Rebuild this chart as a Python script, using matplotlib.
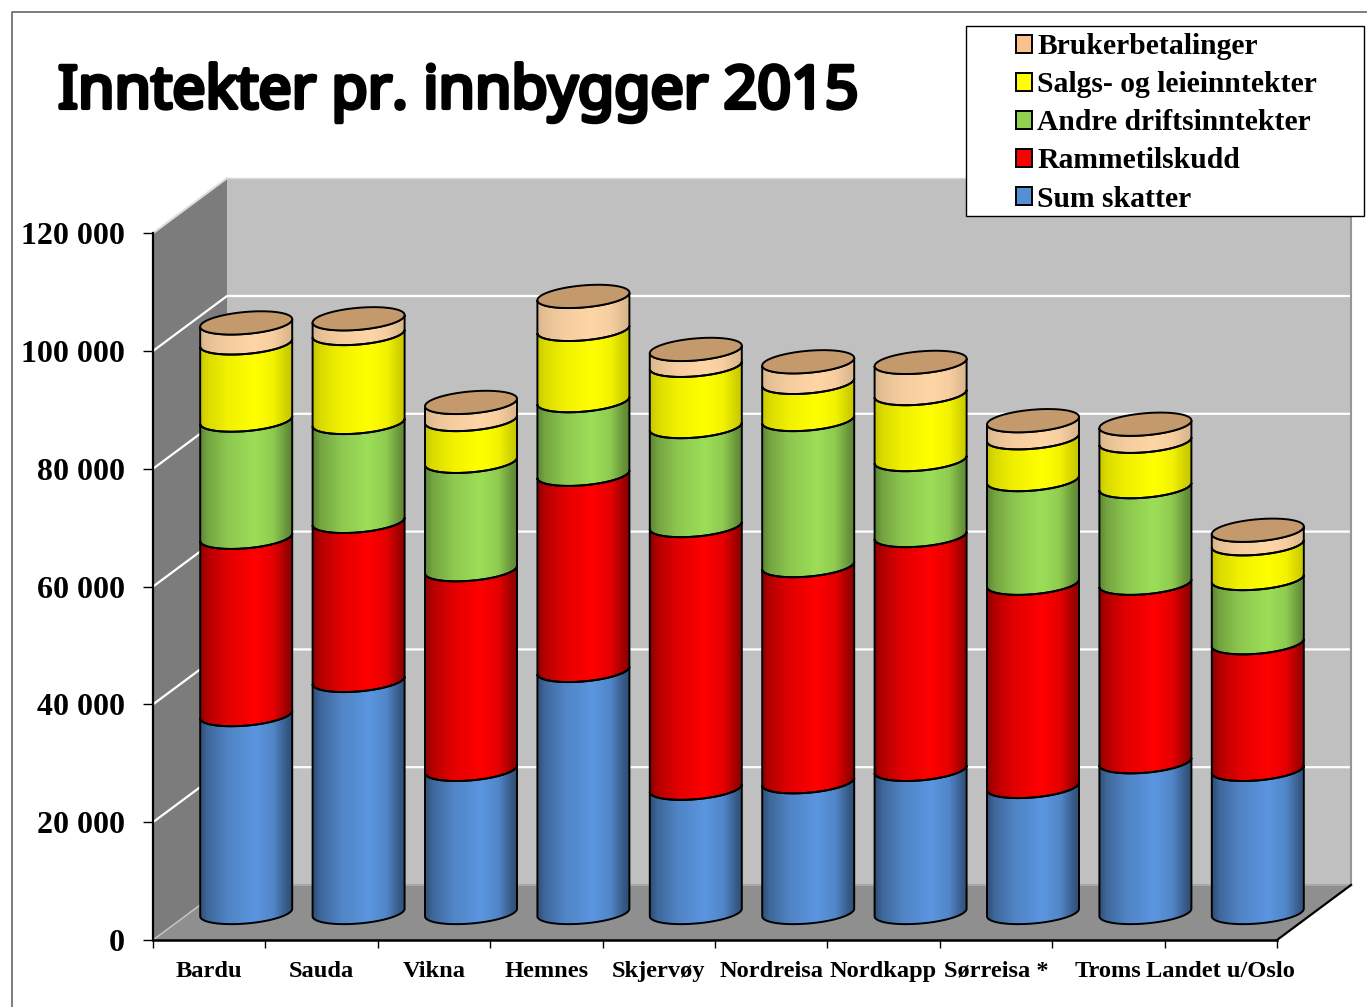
import numpy as np
import matplotlib
matplotlib.use('Agg')
import matplotlib.pyplot as plt
import matplotlib.patheffects as pe
from matplotlib.patches import Polygon, Rectangle, Patch
from matplotlib.lines import Line2D
from matplotlib.colors import to_rgb
from matplotlib.ticker import FuncFormatter

#dados
kommuner = ['Bardu', 'Sauda', 'Vikna', 'Hemnes', 'Skjervøy', 'Nordreisa', 'Nordkapp',
            'Sørreisa *', 'Troms', 'Landet u/Oslo']
sum_skatter = [33600, 39400, 24300, 41100, 21100, 22200, 24300, 21400, 25600, 24300]
rammetilskudd = [30100, 27000, 33900, 33300, 44600, 36700, 39700, 34500, 30300, 21500]
andre_drift = [19900, 16800, 18400, 12500, 16800, 24800, 12900, 17600, 16400, 10900]
salg_leie = [13100, 15100, 7100, 12100, 10400, 6300, 11200, 7100, 7700, 5900]
bruker = [3400, 2500, 2900, 5600, 2700, 3500, 5300, 2900, 2900, 2300]
nomes = ['Sum skatter', 'Rammetilskudd', 'Andre driftsinntekter', 'Salgs- og leieinntekter', 'Brukerbetalinger']
series = [sum_skatter, rammetilskudd, andre_drift, salg_leie, bruker]
yticks = [0, 20000, 40000, 60000, 80000, 100000, 120000]

#cores
legenda_cor = ['#558ED5', '#FF0000', '#92D050', '#FFFF00', '#FAC090']
centro_cor = ['#5B96E0', '#FF0000', '#9CDE58', '#FFFF00', '#FFD5A5']
escuro = [0.52, 0.55, 0.6, 0.78, 0.85]
cor_topo = '#C49A6C'

#escala em pixels
W, H = 1367, 1007
px_x = 112.4
px_y = 0.00589
x0_px = 209.2
y0_px = 940
dx = 74 / px_x
dy = 55 / px_y
meia_larg = 46 / px_x
b = 11 / px_y
s = 3.8 / px_y

fig = plt.figure(figsize=(W / 100, H / 100), dpi=100, facecolor='white')
ax = fig.add_axes([0, 0, 1, 1])
ax.set_facecolor('none')
ax.set_autoscale_on(False)
xlim = (-x0_px / px_x, (W - x0_px) / px_x)
ylim = ((y0_px - H) / px_y, y0_px / px_y)

#paredes
x1, x2 = -0.5, 9.5
ymax = yticks[-1]
ax.add_patch(Polygon([(x1, 0), (x1 + dx, dy), (x1 + dx, ymax + dy), (x1, ymax)], fc='#7C7C7C', ec='none', zorder=1))
ax.add_patch(Polygon([(x1 + dx, dy), (x2 + dx, dy), (x2 + dx, ymax + dy), (x1 + dx, ymax + dy)], fc='#C0C0C0', ec='none', zorder=1))
ax.add_patch(Polygon([(x1, 0), (x2, 0), (x2 + dx, dy), (x1 + dx, dy)], fc='#8F8F8F', ec='none', zorder=1))
for v in yticks:
    if v == 0:
        ax.plot([x1, x1 + dx], [v, v + dy], color='#C8C8C8', lw=1, zorder=1.5)
        ax.plot([x1 + dx, x2 + dx], [v + dy, v + dy], color='#A8A8A8', lw=1.5, zorder=1.5)
    elif v == ymax:
        ax.plot([x1, x1 + dx], [v, v + dy], color='#DDDDDD', lw=1.5, zorder=1.5)
        ax.plot([x1 + dx, x2 + dx], [v + dy, v + dy], color='#D8D8D8', lw=1, zorder=1.5)
    else:
        ax.plot([x1, x1 + dx, x2 + dx], [v, v + dy, v + dy], color='white', lw=1.6, zorder=1.5)
ax.plot([x2 + dx, x2 + dx], [dy, ymax + dy], color='#969696', lw=1.5, zorder=1.5)
ax.plot([x2, x2 + dx], [0, dy], color='black', lw=1.6, zorder=2.5)

#cilindros
t = np.linspace(np.pi, 0, 60)
tf = [0, 0.08, 0.3, 0.6, 0.8, 0.95, 1]

def arco(cx, cy):
    return cx + meia_larg * np.cos(t), cy - b * np.sin(t) + s * np.cos(t)

for i in range(len(kommuner)):
    cx = i + dx / 2
    base = dy / 2
    for j, serie in enumerate(series):
        topo = base + serie[i]
        xa, ya = arco(cx, base)
        xb, yb = arco(cx, topo)
        pts = np.vstack([np.column_stack([xa, ya]), np.column_stack([xb, yb])[::-1]])
        poly = Polygon(pts, closed=True, fc='none', ec='black', lw=1.4, zorder=4)
        ax.add_patch(poly)
        lim = escuro[j]
        f = np.interp(np.linspace(0, 1, 128), tf, [lim, lim + (1 - lim) * 0.35, lim + (1 - lim) * 0.75, 1, lim + (1 - lim) * 0.78, lim + (1 - lim) * 0.15, lim])
        grad = np.outer(f, to_rgb(centro_cor[j]))[None, :, :]
        im = ax.imshow(grad, extent=[cx - meia_larg, cx + meia_larg, base - 2 * b, topo + 2 * b],
                       aspect='auto', origin='lower', interpolation='bilinear', zorder=3)
        im.set_clip_path(poly)
        base = topo
    tt = np.linspace(0, 2 * np.pi, 120)
    ax.add_patch(Polygon(np.column_stack([cx + meia_larg * np.cos(tt), base - b * np.sin(tt) + s * np.cos(tt)]),
                         closed=True, fc=cor_topo, ec='black', lw=1.4, zorder=5))

ax.set_xlim(xlim)
ax.set_ylim(ylim)

#eixos
for lado in ['top', 'right']:
    ax.spines[lado].set_visible(False)
ax.spines['left'].set_position(('data', x1))
ax.spines['left'].set_bounds(0, ymax)
ax.spines['bottom'].set_position(('data', 0))
ax.spines['bottom'].set_bounds(x1, x2)
ax.spines['left'].set_linewidth(1.6)
ax.spines['bottom'].set_linewidth(1.8)
ax.set_yticks(yticks)
ax.yaxis.set_major_formatter(FuncFormatter(lambda v, p: f'{int(v):,}'.replace(',', ' ')))
ax.tick_params(axis='y', direction='out', length=7.2, width=1, pad=13)
ax.set_xticks(np.arange(x1, x2 + 1))
ax.set_xticklabels([])
ax.set_xticks(np.arange(len(kommuner)), minor=True)
ax.set_xticklabels(kommuner, minor=True)
ax.tick_params(axis='x', which='major', direction='out', length=6, width=1)
ax.tick_params(axis='x', which='minor', length=0, pad=15)
for lab in ax.get_yticklabels():
    lab.set_fontfamily('Liberation Serif')
    lab.set_fontweight('bold')
    lab.set_fontsize(23)
for lab in ax.get_xticklabels(minor=True):
    lab.set_fontfamily('Liberation Serif')
    lab.set_fontweight('bold')
    lab.set_fontsize(17.6)

#moldura
fig.add_artist(Line2D([12 / W, 12 / W, 1], [0, 1 - 12 / H, 1 - 12 / H], color='#666666', lw=1.2))

#titulo
fig.text(58 / W, 1 - 108 / H, 'Inntekter pr. innbygger 2015', family='Noto Sans',
         fontsize=42.5, ha='left', va='baseline', color='black',
         path_effects=[pe.withStroke(linewidth=3, foreground='black', capstyle='round', joinstyle='round')])

#legenda
fig.add_artist(Rectangle((966 / W, 1 - 216 / H), 398 / W, 190 / H, transform=fig.transFigure,
                         fc='white', ec='black', lw=1, zorder=6))
handles = [Patch(fc=legenda_cor[j], ec='black', lw=1.4) for j in range(4, -1, -1)]
leg = fig.legend(handles, nomes[::-1], loc='upper left', bbox_to_anchor=(995 / W, 1 - 12.5 / H),
                 frameon=False, handlelength=0.55, handleheight=0.55, handletextpad=0.17,
                 labelspacing=0.375, borderpad=0.2, prop={'family': 'Liberation Serif', 'weight': 'bold', 'size': 21.3})
leg.set_zorder(7)

plt.savefig('out.png', dpi=100)
